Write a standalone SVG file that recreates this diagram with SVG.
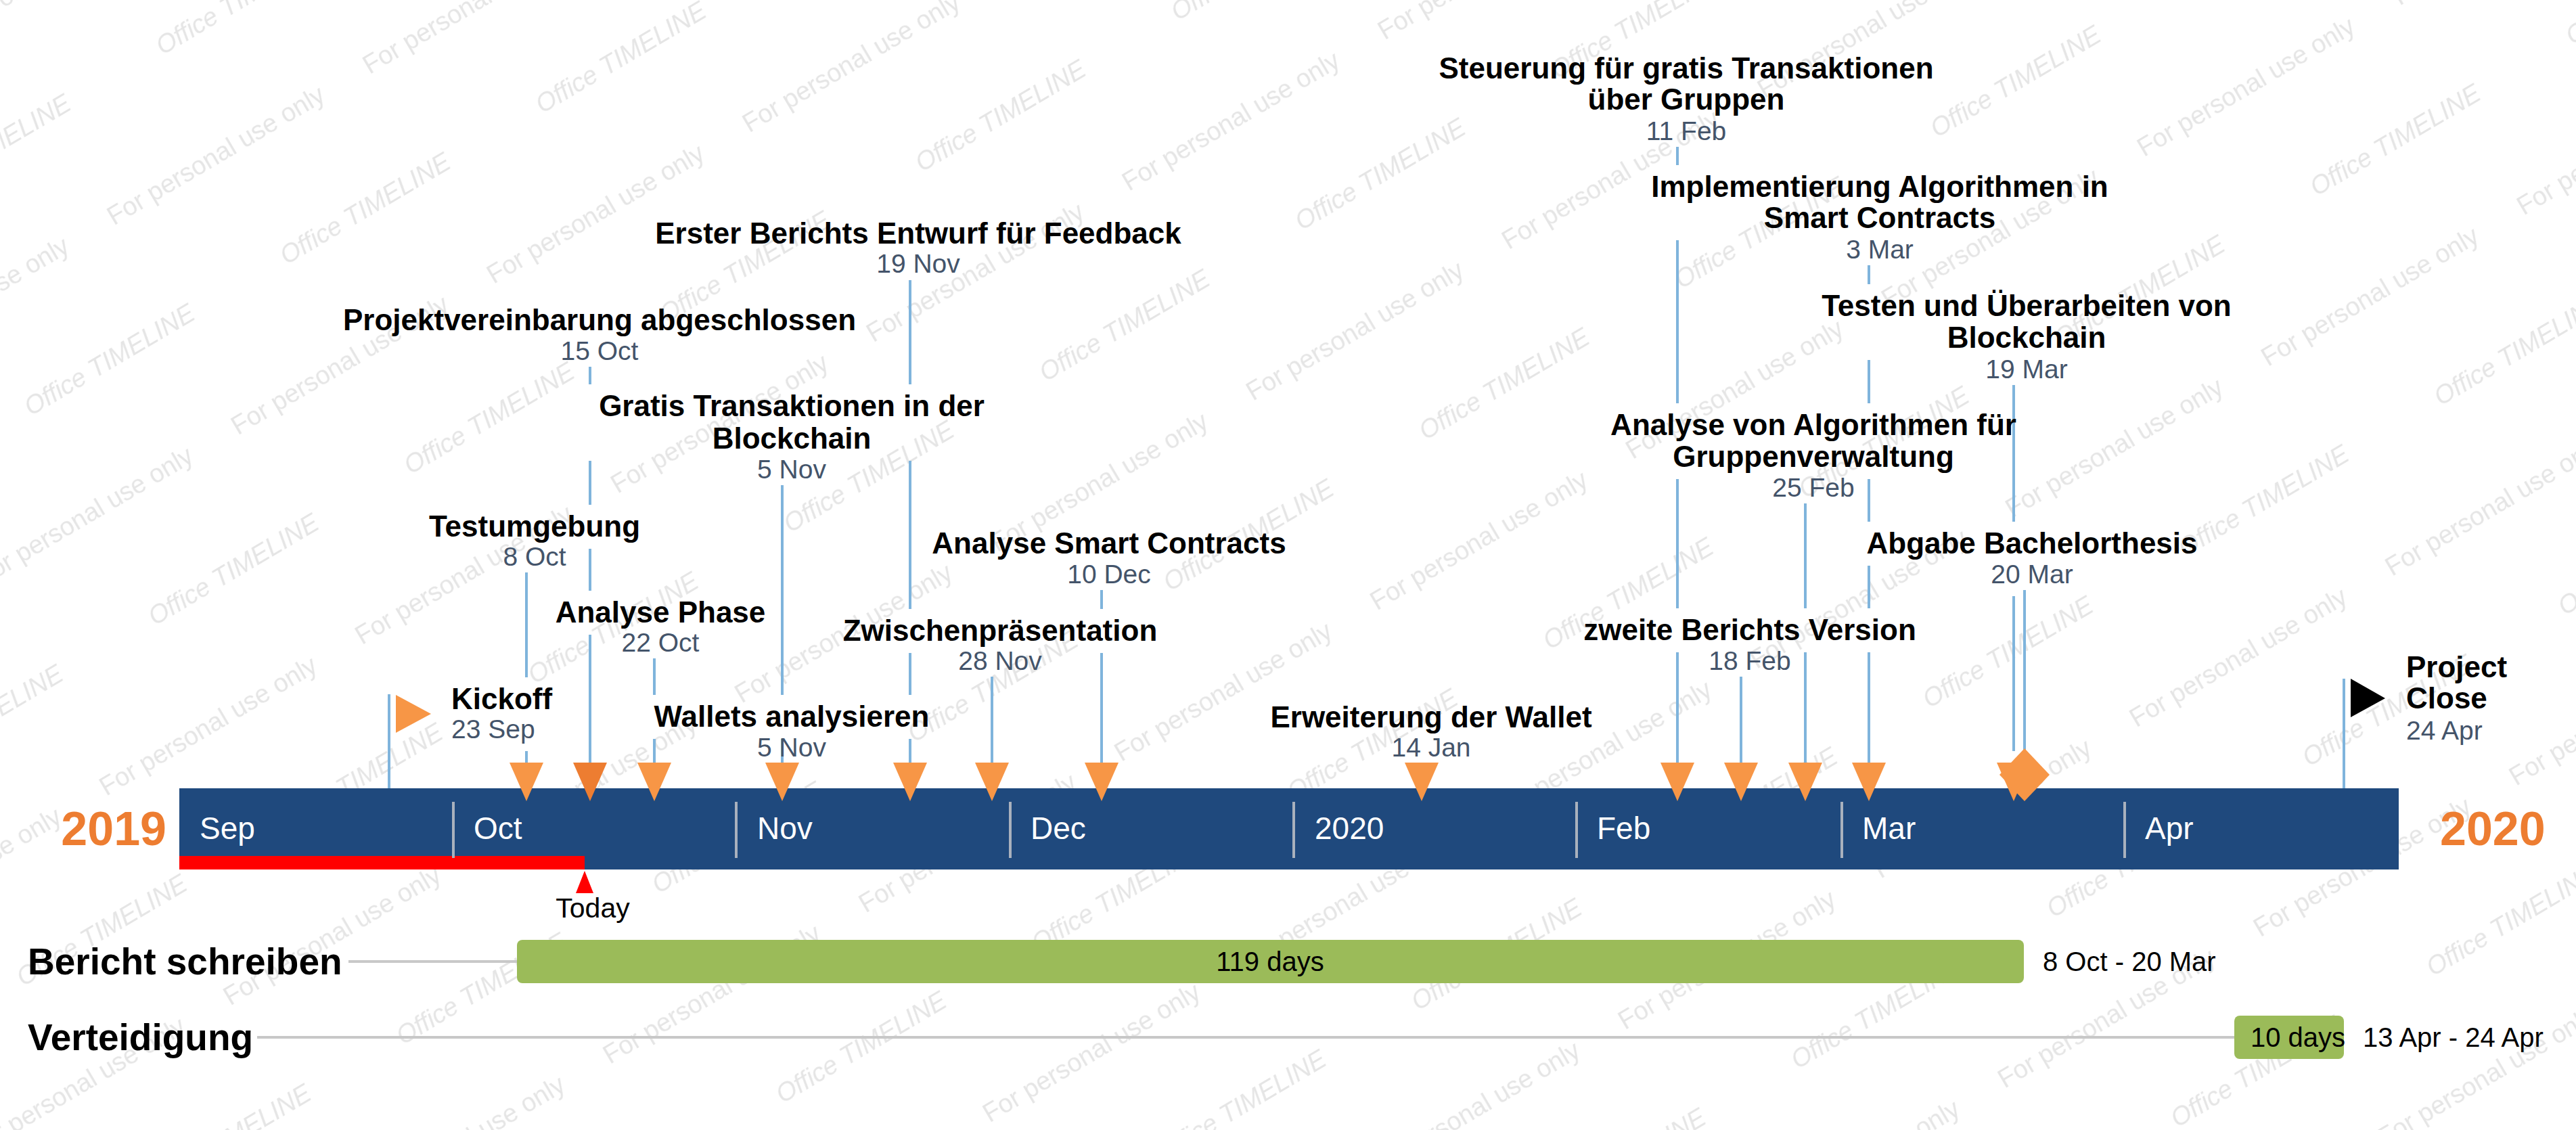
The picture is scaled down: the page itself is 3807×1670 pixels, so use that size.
<svg xmlns="http://www.w3.org/2000/svg" width="3807" height="1670" viewBox="0 0 3807 1670">
<style>
text{font-family:"Liberation Sans",Arial,sans-serif}
.t{font-weight:bold;font-size:44px;fill:#000}
.d{font-size:39px;fill:#44546a}
.m{font-size:46px;fill:#fff}
.yr{font-size:70px;font-weight:bold;fill:#ed7d31}
.g{font-size:40px;fill:#000}
.gl{font-size:55px;font-weight:bold;fill:#000}
.conn{stroke:#7fb4dc;stroke-width:4;fill:none}
.sep{stroke:#a9b1bd;stroke-width:4}
.tri{fill:#f79646}
.row{stroke:#c8c8c8;stroke-width:4}
.bar{fill:#9bbb59}
.wm{font-size:38px;fill:#bdbdbd;fill-opacity:0.4}
</style>
<defs>
<path id="tri" d="M-25,0 L25,0 L0,57 Z"/>
<pattern id="wmark" patternUnits="userSpaceOnUse" x="-25" y="73" width="439" height="360" patternTransform="rotate(-30.6)">
<text class="wm" x="0" y="300">For personal use only</text>
<text class="wm" x="190" y="120" font-style="italic">Office TIMELINE</text>
<text class="wm" x="-249" y="120" font-style="italic">Office TIMELINE</text>
</pattern>
</defs>
<rect width="3807" height="1670" fill="#fff"/>
<rect id="watermark" width="3807" height="1670" fill="url(#wmark)"/>

<g id="axis">
<rect x="265" y="1165" width="3280" height="120" fill="#1f497d"/>
<rect x="265" y="1265" width="599" height="20" fill="#ff0000"/>
<g class="sep">
<line x1="670" y1="1185" x2="670" y2="1268"/>
<line x1="1088" y1="1185" x2="1088" y2="1268"/>
<line x1="1493" y1="1185" x2="1493" y2="1268"/>
<line x1="1912" y1="1185" x2="1912" y2="1268"/>
<line x1="2330" y1="1185" x2="2330" y2="1268"/>
<line x1="2722" y1="1185" x2="2722" y2="1268"/>
<line x1="3140" y1="1185" x2="3140" y2="1268"/>
</g>
<text class="m" x="295" y="1240">Sep</text>
<text class="m" x="700" y="1240">Oct</text>
<text class="m" x="1119" y="1240">Nov</text>
<text class="m" x="1523" y="1240">Dec</text>
<text class="m" x="1943" y="1240">2020</text>
<text class="m" x="2360" y="1240">Feb</text>
<text class="m" x="2752" y="1240">Mar</text>
<text class="m" x="3170" y="1240">Apr</text>
<text class="yr" x="246" y="1249" text-anchor="end">2019</text>
<text class="yr" x="3606" y="1249">2020</text>
</g>

<g id="today">
<path d="M864,1287 L877,1320 L851,1320 Z" fill="#ff0000"/>
<text x="876" y="1356" font-size="41" text-anchor="middle" fill="#000">Today</text>
</g>

<g id="connectors" class="conn">
<path d="M778,846V1001M778,1110V1135"/>
<path d="M872,542V568M872,681V746M872,811V873M872,938V1135"/>
<path d="M967,973V1027M967,1092V1135"/>
<path d="M1156,717V1027M1156,1092V1135"/>
<path d="M1345,414V568M1345,681V900M1345,965V1027M1345,1092V1135"/>
<path d="M1466,1000V1135"/>
<path d="M1628,872V900M1628,965V1135"/>
<path d="M2479,217V244M2479,355V596M2479,708V899M2479,964V1135"/>
<path d="M2762,392V420M2762,532V596M2762,708V771M2762,836V899M2762,964V1135"/>
<path d="M2668,744V899M2668,964V1135"/>
<path d="M2573,1000V1135"/>
<path d="M2976,569V771M2976,881V1110"/>
<path d="M2992,872V1110"/>
<path d="M575,1026V1165"/>
<path d="M3464,1003V1165"/>
</g>

<g id="markers">
<use href="#tri" class="tri" x="778" y="1127"/>
<use href="#tri" x="872" y="1127" fill="#ed7d31"/>
<use href="#tri" class="tri" x="967" y="1127"/>
<use href="#tri" class="tri" x="1156" y="1127"/>
<use href="#tri" class="tri" x="1345" y="1127"/>
<use href="#tri" class="tri" x="1466" y="1127"/>
<use href="#tri" class="tri" x="1628" y="1127"/>
<use href="#tri" class="tri" x="2101" y="1127"/>
<use href="#tri" class="tri" x="2479" y="1127"/>
<use href="#tri" class="tri" x="2573" y="1127"/>
<use href="#tri" class="tri" x="2668" y="1127"/>
<use href="#tri" class="tri" x="2762" y="1127"/>
<use href="#tri" class="tri" x="2976" y="1127"/>
<path class="tri" d="M2992,1106 L3029,1145 L2992,1184 L2955,1145 Z"/>
<path class="tri" d="M585,1027 L637,1055 L585,1083 Z"/>
<path d="M3474,1003 L3525,1032 L3474,1060 Z" fill="#000"/>
</g>

<g id="m-kickoff"><text class="t" x="667" y="1048">Kickoff</text><text class="d" x="667" y="1091">23 Sep</text></g>
<g id="m-testumgebung"><text class="t" x="790" y="793" text-anchor="middle">Testumgebung</text><text class="d" x="790" y="836" text-anchor="middle">8 Oct</text></g>
<g id="m-projekt"><text class="t" x="886" y="488" text-anchor="middle">Projektvereinbarung abgeschlossen</text><text class="d" x="886" y="532" text-anchor="middle">15 Oct</text></g>
<g id="m-analysephase"><text class="t" x="976" y="920" text-anchor="middle">Analyse Phase</text><text class="d" x="976" y="963" text-anchor="middle">22 Oct</text></g>
<g id="m-gratis"><text class="t" x="1170" y="615" text-anchor="middle">Gratis Transaktionen in der</text><text class="t" x="1170" y="663" text-anchor="middle">Blockchain</text><text class="d" x="1170" y="707" text-anchor="middle">5 Nov</text></g>
<g id="m-wallets"><text class="t" x="1170" y="1074" text-anchor="middle">Wallets analysieren</text><text class="d" x="1170" y="1118" text-anchor="middle">5 Nov</text></g>
<g id="m-erster"><text class="t" x="1357" y="360" text-anchor="middle">Erster Berichts Entwurf für Feedback</text><text class="d" x="1357" y="403" text-anchor="middle">19 Nov</text></g>
<g id="m-zwischen"><text class="t" x="1478" y="947" text-anchor="middle">Zwischenpräsentation</text><text class="d" x="1478" y="990" text-anchor="middle">28 Nov</text></g>
<g id="m-smart"><text class="t" x="1639" y="818" text-anchor="middle">Analyse Smart Contracts</text><text class="d" x="1639" y="862" text-anchor="middle">10 Dec</text></g>
<g id="m-erweiterung"><text class="t" x="2115" y="1075" text-anchor="middle">Erweiterung der Wallet</text><text class="d" x="2115" y="1118" text-anchor="middle">14 Jan</text></g>
<g id="m-steuerung"><text class="t" x="2492" y="116" text-anchor="middle">Steuerung für gratis Transaktionen</text><text class="t" x="2492" y="162" text-anchor="middle">über Gruppen</text><text class="d" x="2492" y="207" text-anchor="middle">11 Feb</text></g>
<g id="m-zweite"><text class="t" x="2586" y="946" text-anchor="middle">zweite Berichts Version</text><text class="d" x="2586" y="990" text-anchor="middle">18 Feb</text></g>
<g id="m-analysevon"><text class="t" x="2680" y="643" text-anchor="middle">Analyse von Algorithmen für</text><text class="t" x="2680" y="690" text-anchor="middle">Gruppenverwaltung</text><text class="d" x="2680" y="734" text-anchor="middle">25 Feb</text></g>
<g id="m-implementierung"><text class="t" x="2778" y="291" text-anchor="middle">Implementierung Algorithmen in</text><text class="t" x="2778" y="337" text-anchor="middle">Smart Contracts</text><text class="d" x="2778" y="382" text-anchor="middle">3 Mar</text></g>
<g id="m-testen"><text class="t" x="2995" y="467" text-anchor="middle">Testen und Überarbeiten von</text><text class="t" x="2995" y="514" text-anchor="middle">Blockchain</text><text class="d" x="2995" y="559" text-anchor="middle">19 Mar</text></g>
<g id="m-abgabe"><text class="t" x="3003" y="818" text-anchor="middle">Abgabe Bachelorthesis</text><text class="d" x="3003" y="862" text-anchor="middle">20 Mar</text></g>
<g id="m-close"><text class="t" x="3556" y="1001">Project</text><text class="t" x="3556" y="1047">Close</text><text class="d" x="3556" y="1093">24 Apr</text></g>

<g id="task-bericht">
<line class="row" x1="515" y1="1421" x2="766" y2="1421"/>
<rect class="bar" x="764" y="1389" width="2227" height="64" rx="8"/>
<text class="gl" x="41" y="1440">Bericht schreiben</text>
<text class="g" x="1877" y="1435" text-anchor="middle">119 days</text>
<text class="g" x="3019" y="1435">8 Oct - 20 Mar</text>
</g>
<g id="task-verteidigung">
<line class="row" x1="380" y1="1533" x2="3304" y2="1533"/>
<rect class="bar" x="3302" y="1501" width="162" height="64" rx="8"/>
<text class="gl" x="41" y="1552">Verteidigung</text>
<text class="g" x="3326" y="1547">10 days</text>
<text class="g" x="3492" y="1547">13 Apr - 24 Apr</text>
</g>
</svg>
